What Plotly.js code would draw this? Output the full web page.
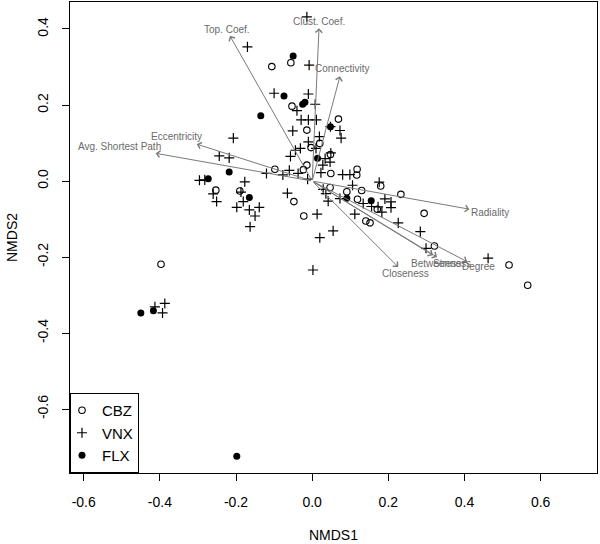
<!DOCTYPE html>
<html><head><meta charset="utf-8">
<script src="https://cdn.plot.ly/plotly-3.0.1.min.js"></script>
<style>html,body{margin:0;padding:0;background:#fff}#chart{width:600px;height:544px}</style>
</head><body><div id="chart"></div>
<script>
// ---- data ----
const cbzX = [-0.056,-0.106,-0.053,0.069,-0.014,0.020,-0.003,0.048,-0.014,-0.023,-0.098,0.049,0.118,0.117,0.047,0.091,0.130,0.180,0.233,0.119,0.171,0.141,0.152,0.294,0.321,0.517,0.566,-0.048,-0.022,-0.253,-0.190,-0.397];
const cbzY = [0.311,0.301,0.197,0.163,0.134,0.099,0.088,0.070,0.042,0.030,0.031,0.020,0.031,0.016,-0.017,-0.028,-0.025,-0.013,-0.035,-0.048,-0.074,-0.105,-0.110,-0.085,-0.171,-0.221,-0.274,-0.054,-0.092,-0.024,-0.026,-0.219];

const vnxX = [-0.014,-0.170,-0.008,-0.100,-0.010,-0.040,0.008,-0.029,-0.010,0.011,-0.207,-0.051,0.048,0.073,0.076,0.019,-0.010,-0.031,-0.044,0.010,-0.244,-0.218,-0.057,0.049,0.034,0.047,0.028,-0.120,-0.077,-0.060,-0.037,-0.012,0.023,0.080,0.099,-0.296,-0.282,-0.177,-0.260,-0.251,-0.187,-0.181,-0.198,-0.165,-0.139,-0.150,-0.163,-0.065,0.029,0.036,0.042,0.013,0.055,0.020,0.073,0.106,0.176,0.134,0.156,0.173,0.191,0.207,0.207,0.183,0.112,0.226,0.284,0.299,0.462,-0.413,-0.387,-0.393,0.002];
const vnxY = [0.432,0.353,0.305,0.231,0.229,0.185,0.202,0.161,0.161,0.161,0.113,0.132,0.143,0.133,0.113,0.117,0.103,0.086,0.081,0.086,0.066,0.061,0.065,0.074,0.059,0.050,0.042,0.020,0.016,0.028,0.020,0.005,0.022,0.017,0.017,0.002,0.003,-0.002,-0.034,-0.054,-0.029,-0.054,-0.069,-0.076,-0.069,-0.092,-0.120,-0.032,-0.022,-0.033,-0.053,-0.087,-0.131,-0.149,-0.046,-0.011,-0.003,-0.059,-0.067,-0.068,-0.047,-0.055,-0.070,-0.082,-0.087,-0.110,-0.133,-0.177,-0.203,-0.331,-0.322,-0.347,-0.234];

const flxX = [-0.050,-0.074,-0.025,-0.019,-0.135,0.048,0.014,-0.218,-0.273,-0.165,0.091,0.155,-0.417,-0.450,-0.198];
const flxY = [0.329,0.224,0.202,0.207,0.172,0.143,0.060,0.024,0.006,-0.043,-0.045,-0.052,-0.341,-0.347,-0.724];

// fitted vectors (arrow tips) and their label positions
const vecNames = ["Top. Coef.","Clust. Coef.","Connectivity","Eccentricity","Avg. Shortest Path","Radiality","Closeness","Betweenness","Stress","Degree"];
const vecX = [-0.216,0.018,0.073,-0.303,-0.411,0.413,0.226,0.317,0.328,0.407];
const vecY = [0.382,0.402,0.276,0.097,0.073,-0.074,-0.226,-0.195,-0.200,-0.212];
const labX = [-0.225,0.019,0.077,-0.356,-0.505,0.467,0.244,0.338,0.354,0.438];
const labY = [0.399,0.419,0.297,0.117,0.092,-0.083,-0.243,-0.217,-0.217,-0.226];

const tickVals = [-0.6,-0.4,-0.2,0.0,0.2,0.4,0.6];
const xTickText = ["-0.6","-0.4","-0.2","0.0","0.2","0.4","0.6"];
const yTickVals = [-0.6,-0.4,-0.2,0.0,0.2,0.4];
const yTickText = ["-0.6","-0.4","-0.2","0.0","0.2","0.4"];

// ---- chart ----
const FONT = "Liberation Sans, Arial, Helvetica, sans-serif";
const traces = [
  {type:'scatter', mode:'markers', name:'CBZ', x:cbzX, y:cbzY, legendrank:1,
   marker:{symbol:'circle-open', size:6.5, color:'#000', line:{width:1.1, color:'#000'}}},
  {type:'scatter', mode:'markers', name:'FLX', x:flxX, y:flxY, legendrank:3,
   marker:{symbol:'circle', size:7, color:'#000'}},
  {type:'scatter', mode:'markers', name:'VNX', x:vnxX, y:vnxY, legendrank:2,
   marker:{symbol:'cross-thin-open', size:7.2, color:'#000', line:{width:1.2, color:'#000'}}}
];

const annotations = [];
vecNames.forEach((n,i)=>{
  annotations.push({x:vecX[i], y:vecY[i], ax:0, ay:0, xref:'x', yref:'y', axref:'x', ayref:'y',
    text:'', showarrow:true, arrowhead:4, arrowsize:1.3, arrowwidth:1, arrowcolor:'#7a7a7a', standoff:0});
});
vecNames.forEach((n,i)=>{
  annotations.push({x:labX[i], y:labY[i], xref:'x', yref:'y', text:n, showarrow:false,
    xanchor:'center', yanchor:'middle', font:{family:FONT, size:10, color:'#6a6a6a'}});
});

const axisCommon = {showline:true, linecolor:'#000', linewidth:1, mirror:true, ticks:'outside',
  ticklen:7, tickwidth:1, tickcolor:'#000', showgrid:false, zeroline:false,
  tickfont:{family:FONT, size:14, color:'#000'}};

const layout = {
  width:600, height:544,
  margin:{l:70, r:3, t:2, b:71},
  paper_bgcolor:'#fff', plot_bgcolor:'#fff',
  font:{family:FONT, color:'#000'},
  showlegend:true,
  legend:{x:0, y:0, xanchor:'left', yanchor:'bottom', bgcolor:'#fff', bordercolor:'#000', borderwidth:1,
    font:{family:FONT, size:15, color:'#000'}, itemwidth:30, tracegroupgap:0, indentation:-9},
  xaxis:Object.assign({}, axisCommon, {range:[-0.636,0.748], tickmode:'array', tickvals:tickVals, ticktext:xTickText,
    ticklabelstandoff:9, title:{text:'NMDS1', font:{family:FONT, size:14}, standoff:21}}),
  yaxis:Object.assign({}, axisCommon, {range:[-0.768,0.471], tickmode:'array', tickvals:yTickVals, ticktext:yTickText,
    tickangle:-90, ticklabelstandoff:8, title:{text:'NMDS2', font:{family:FONT, size:14}, standoff:14}}),
  annotations:annotations
};

Plotly.newPlot('chart', traces, layout, {displayModeBar:false, staticPlot:true});
</script>
</body></html>
